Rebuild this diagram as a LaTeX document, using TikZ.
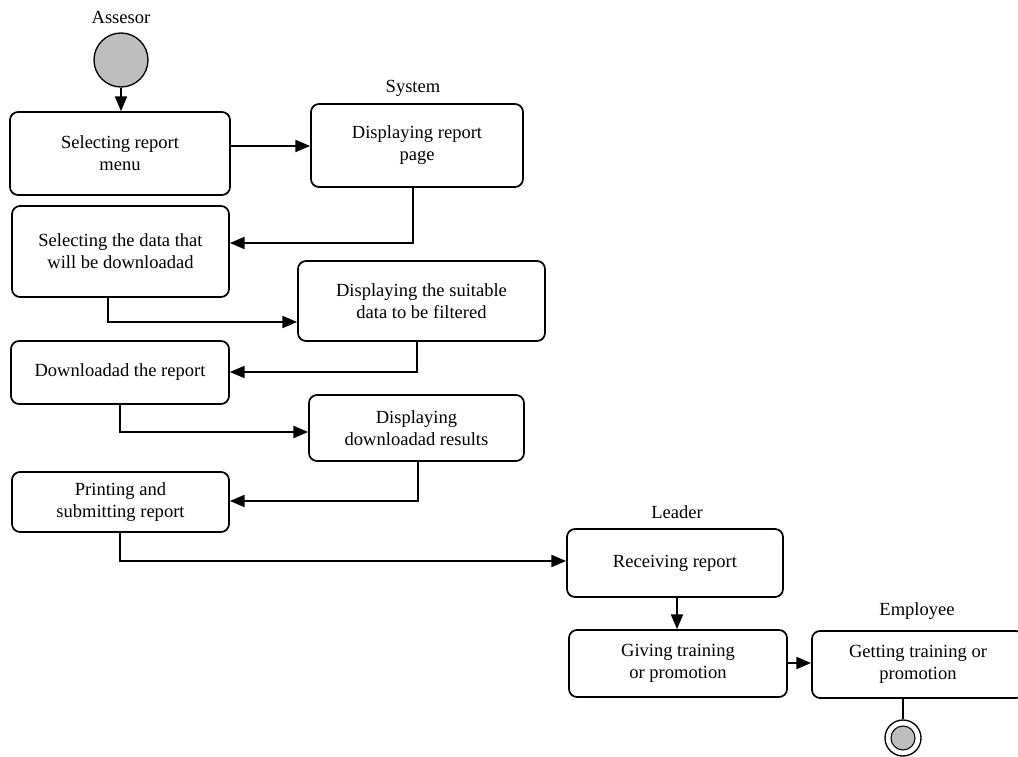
\documentclass[tikz,border=0pt]{standalone}
\usepackage{fontspec}
\setmainfont{Liberation Serif}
\usetikzlibrary{arrows.meta}
\definecolor{nodegray}{RGB}{190,190,190}
\begin{document}
\begin{tikzpicture}[x=0.75pt,y=-0.75pt,
  box/.style 2 args={draw, rounded corners=6pt, line width=1.3pt,
    minimum width=#1*0.75pt, minimum height=#2*0.75pt, align=center,
    inner sep=0pt, font=\fontsize{13.9}{16.5}\selectfont},
  lbl/.style={font=\fontsize{13.9}{16.5}\selectfont, inner sep=0pt},
  arr/.style={line width=1.3pt, -{Triangle[length=11pt,width=9pt]}},
  conn/.style={line width=1.3pt}]
\useasboundingbox (0,0) rectangle (1018,757);
\clip (0,0) rectangle (1018,757);

% start
\node[lbl] (lassesor) at (121,17) {Assesor};
\node[draw, circle, fill=nodegray, line width=1pt, minimum size=54*0.75pt, inner sep=0pt] (start) at (121,60) {};

% boxes
\node[box={220}{83}] (b1) at (120,153.5) {Selecting report\\menu};
\node[lbl] (lsystem) at (413,88) {System};
\node[box={212}{83}] (b2) at (417,145.5) {Displaying report\\page};
\node[box={217}{91}] (b3) at (120.5,251.5) {Selecting the data that\\will be downloadad};
\node[box={247}{80}] (b4) at (421.5,301) {Displaying the suitable\\data to be filtered};
\node[box={218}{63}] (b5) at (120,372.5) {Downloadad the report};
\node[box={215}{66}] (b6) at (416.5,428) {Displaying\\downloadad results};
\node[box={217}{60}] (b7) at (120.5,502) {Printing and\\submitting report};
\node[lbl] (lleader) at (677,512) {Leader};
\node[box={216}{68}] (b8) at (675,563) {Receiving report};
\node[box={218}{67}] (b9) at (678,663.5) {Giving training\\or promotion};
\node[lbl] (lemployee) at (917,611) {Employee};
\node[box={212}{67}] (b10) at (918,664.5) {Getting training or\\promotion};

% end
\node[draw, circle, fill=white, line width=1pt, minimum size=36*0.75pt, inner sep=0pt] (end) at (903,738) {};
\node[draw, circle, fill=nodegray, line width=0.8pt, minimum size=24*0.75pt, inner sep=0pt] (endin) at (end.center) {};

% elbow coordinates
\coordinate (c1) at (0,146);
\coordinate (c2) at (413,243);
\coordinate (c3) at (108,322);
\coordinate (c4) at (417,372);
\coordinate (c5) at (120,432);
\coordinate (c6) at (418,501);
\coordinate (c7) at (120,561);
\coordinate (c8) at (677,0);
\coordinate (c9) at (0,663);

% connectors
\draw[arr] (start.south) -- (b1.north -| start.south);
\draw[arr] (b1.east |- c1) -- (b2.west |- c1);
\draw[arr] (b2.south -| c2) |- (b3.east |- c2);
\draw[arr] (b3.south -| c3) |- (b4.west |- c3);
\draw[arr] (b4.south -| c4) |- (b5.east |- c4);
\draw[arr] (b5.south -| c5) |- (b6.west |- c5);
\draw[arr] (b6.south -| c6) |- (b7.east |- c6);
\draw[arr] (b7.south -| c7) |- (b8.west |- c7);
\draw[arr] (b8.south -| c8) -- (b9.north -| c8);
\draw[arr] (b9.east |- c9) -- (b10.west |- c9);
\draw[conn] (b10.south -| end.north) -- (end.north);
\end{tikzpicture}
\end{document}
